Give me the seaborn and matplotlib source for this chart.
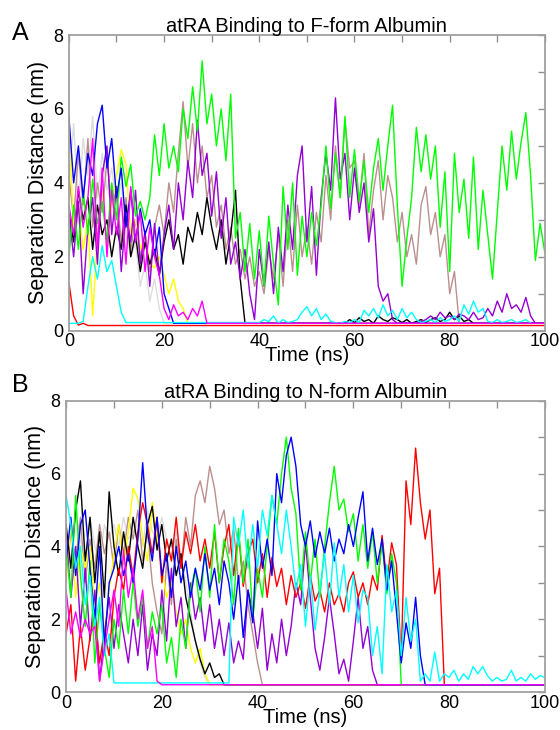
import numpy as np
import pandas as pd
import seaborn as sns
import matplotlib.pyplot as plt
from matplotlib.ticker import MultipleLocator

# Separation distance (nm), one value per ns starting at the given time.
# Panel A: F-form albumin
fa_red = [1.3, 0.4, 0.15, 0.2, 0.14]
fa_cyan = [0.2, 0.2, 0.2, 0.25, 1.2, 2.0, 1.4, 2.3, 1.6, 1.9, 1.2, 0.5, 0.22]
fa_cyan_late = [0.22, 0.3, 0.25, 0.4, 0.2, 0.3, 0.22, 0.25, 0.3, 0.5,      # from 40 ns
                0.65, 0.4, 0.6, 0.3, 0.45, 0.25, 0.22, 0.2, 0.25, 0.22,
                0.3, 0.22, 0.55, 0.4, 0.6, 0.35, 0.7, 0.4, 0.55, 0.3,
                0.6, 0.35, 0.5, 0.3, 0.22, 0.25, 0.3, 0.22, 0.35, 0.25,
                0.3, 0.4, 0.25, 0.7, 0.45, 0.8, 0.5, 0.6, 0.25, 0.22,
                0.3, 0.22, 0.25, 0.3, 0.22, 0.25, 0.3, 0.2]
fa_green = [2.0, 3.4, 2.2, 3.8, 2.6, 4.1, 2.9, 3.5, 2.4, 4.0,
            3.0, 4.7, 3.9, 4.5, 3.1, 3.5, 3.0, 3.6, 5.3, 4.2,
            5.6, 4.4, 5.0, 4.3, 6.0, 5.2, 6.6, 5.4, 7.3, 5.6,
            6.4, 5.0, 6.0, 4.6, 6.4, 2.5, 3.2, 1.6, 2.9, 1.4,
            2.7, 1.2, 3.1, 1.8, 0.7, 3.9, 2.2, 4.0, 1.5, 3.1,
            2.0, 3.2, 2.3, 3.4, 5.0, 3.3, 4.8, 3.6, 5.8, 3.6,
            4.9, 3.5, 4.6, 3.2, 4.4, 5.2, 3.8, 5.0, 6.1, 3.4,
            1.2, 2.5, 3.6, 5.5, 4.3, 5.3, 4.1, 5.0, 2.8, 4.3,
            1.6, 4.8, 3.2, 4.1, 2.5, 4.7, 2.2, 3.8, 2.6, 1.4,
            3.2, 5.0, 3.8, 5.4, 4.1, 5.1, 5.9, 4.2, 1.9, 2.9, 2.1]
fa_purple = [3.2, 2.0, 3.5, 1.0, 2.8, 3.6, 1.8, 4.2, 5.0, 2.6,
             3.9, 1.6, 3.2, 2.4, 3.8, 1.8, 2.7, 1.2, 2.9, 1.5,
             2.6, 3.4, 2.2, 4.0, 3.0, 4.6, 3.6, 5.7, 4.2, 4.8,
             3.1, 4.3, 2.5, 3.6, 1.8, 2.4, 1.4, 2.2, 1.0, 0.3,
             2.2, 1.2, 2.4, 1.0, 2.8, 1.6, 3.4, 2.2, 4.2, 5.0,
             2.4, 3.9, 1.5, 3.6, 4.8, 3.8, 6.3, 4.1, 4.8, 3.0,
             4.4, 3.2, 4.0, 2.4, 3.3, 1.2, 0.8, 1.0, 0.3, 0.2,
             0.2, 0.2, 0.2, 0.2, 0.25, 0.3, 0.4, 0.3, 0.5, 0.35,
             0.4, 0.3, 0.45, 0.4, 0.3, 0.5, 0.3, 0.35, 0.6, 0.4,
             0.8, 0.5, 1.0, 0.6, 0.7, 0.5, 0.9, 0.4, 0.2]
fa_brown = [4.2, 3.0, 4.8, 3.4, 5.2, 2.8, 4.0, 3.2, 4.6, 3.4,
            3.8, 2.4, 3.6, 2.2, 3.0, 2.0, 2.6, 1.6, 2.8, 3.4,
            2.6, 4.0, 3.2, 4.8, 6.2, 4.4, 5.6, 4.0, 5.0, 3.6,
            4.2, 2.8, 3.4, 2.2, 2.8, 1.8, 2.2, 1.4, 2.0, 1.2,
            1.6, 1.0, 2.2, 1.4, 2.6, 1.2, 3.0, 1.6, 3.4, 2.0,
            2.8, 1.8, 3.2, 2.4, 4.2, 3.0, 5.0, 3.6, 5.7, 4.4,
            4.6, 3.4, 4.8, 2.6, 3.8, 4.6, 3.0, 4.2, 3.6, 2.4,
            3.2, 2.0, 2.6, 1.8, 3.4, 3.9, 2.6, 3.2, 2.0, 2.6,
            1.0, 1.6, 0.2]
fa_black = [3.2, 2.4, 3.8, 3.0, 3.6, 2.2, 3.4, 2.6, 3.0, 2.0,
            2.8, 2.2, 3.4, 2.0, 2.6, 1.6, 2.4, 1.8, 2.2, 1.5,
            2.4, 3.0, 2.2, 2.6, 1.8, 2.8, 2.4, 3.2, 2.6, 3.6,
            2.8, 2.2, 3.0, 1.8, 2.6, 3.8, 1.4, 0.2]
fa_black_late = [0.2, 0.3, 0.22, 0.35, 0.25, 0.3, 0.2, 0.4, 0.3, 0.25,   # from 58 ns
                 0.35, 0.3, 0.22, 0.3, 0.2, 0.25, 0.3, 0.22, 0.3, 0.35,
                 0.25, 0.3, 0.5, 0.3, 0.4, 0.25, 0.3, 0.2]
fa_yellow = [5.5, 2.8, 3.4, 2.2, 3.0, 0.4, 2.6, 3.8, 2.2, 3.4,
             4.2, 4.9, 4.5, 2.6, 3.0, 2.2, 2.6, 1.8, 1.7, 2.0,
             1.5, 1.0, 1.4, 0.8, 0.6, 0.2]
fa_blue = [5.8, 4.0, 5.0, 3.6, 4.8, 4.2, 5.6, 6.1, 4.4, 5.2,
           3.6, 4.4, 2.8, 3.8, 2.4, 3.3, 2.6, 3.0, 2.0, 2.8,
           1.0, 0.6, 0.2]
fa_grey = [4.0, 5.6, 3.4, 5.2, 4.2, 5.8, 3.6, 4.8, 3.8, 4.4,
           3.4, 4.0, 2.6, 2.0, 2.4, 1.2, 1.8, 0.8, 1.4, 0.6, 0.2]
fa_magenta = [3.4, 2.6, 3.9, 2.8, 3.6, 5.2, 2.2, 4.4, 2.0, 3.8,
              2.6, 3.6, 1.8, 3.9, 2.4, 3.2, 1.6, 2.8, 2.0, 1.5,
              0.6, 0.3, 0.7, 0.4, 0.5, 0.3, 0.6, 0.4, 0.8, 0.2]

# Panel B: N-form albumin
nb_red = [1.6, 2.4, 0.3, 1.8, 0.6, 1.5, 2.2, 0.8, 1.7, 1.0,
          2.6, 3.4, 2.8, 4.0, 3.2, 4.4, 5.2, 4.6, 3.8, 4.8,
          3.0, 4.2, 3.6, 4.8, 3.4, 4.4, 3.8, 4.6, 3.6, 4.2,
          3.4, 4.4, 3.0, 4.0, 4.6, 3.2, 4.4, 2.9, 3.8, 4.2,
          3.0, 3.8, 2.6, 3.7, 2.9, 3.4, 2.4, 3.2, 2.6, 3.0,
          2.3, 3.2, 2.5, 2.8, 2.2, 3.0, 2.4, 2.7, 2.2, 3.0,
          3.3, 2.6, 3.0, 2.4, 3.2, 2.8, 4.3, 3.0, 4.1, 3.5,
          0.9, 5.8, 4.6, 6.7, 5.2, 4.2, 5.0, 2.7, 3.4, 0.2]
nb_blue = [3.6, 4.8, 3.2, 4.6, 5.0, 3.4, 2.0, 4.0, 1.2, 3.0,
           3.4, 4.0, 3.2, 3.8, 3.0, 4.2, 6.3, 4.4, 3.6, 4.8,
           3.2, 3.8, 2.6, 4.0, 3.0, 3.6, 2.6, 3.4, 2.8, 3.8,
           2.8, 3.4, 2.4, 3.6, 3.0, 2.0, 3.2, 1.5, 2.8, 1.9,
           4.7, 3.4, 4.2, 3.2, 6.0, 5.2, 6.5, 7.0, 6.2, 4.6,
           4.0, 4.7, 3.7, 4.4, 3.8, 4.5, 3.6, 4.2, 3.8, 4.6,
           4.0, 4.8, 5.5, 3.6, 4.5, 3.5, 4.2, 2.8, 3.6, 2.2,
           0.8, 1.9, 1.2, 2.6, 1.0, 0.2]
nb_green = [4.0, 2.6, 5.4, 3.2, 1.8, 3.6, 0.8, 2.4, 1.2, 0.4,
            2.0, 1.2, 2.8, 1.6, 3.0, 1.8, 2.6, 1.2, 2.2, 1.6,
            2.4, 0.8, 1.5, 0.4, 2.0, 1.2, 2.8, 3.4, 2.2, 4.0,
            2.6, 4.6, 3.0, 4.2, 3.6, 2.4, 4.5, 3.0, 4.2, 2.0,
            3.4, 2.6, 4.0, 5.4, 4.6, 6.0, 7.0, 5.6, 4.9, 2.8,
            4.4, 3.0, 4.2, 2.6, 4.0, 5.2, 6.2, 5.0, 5.3, 4.4,
            4.9, 3.6, 4.6, 3.4, 4.4, 3.0, 4.1, 2.7, 3.8, 3.0, 0.2]
nb_cyan = [5.4, 4.6, 3.4, 4.0, 2.4, 3.2, 1.8, 2.6, 1.0, 1.6, 0.25]
nb_cyan_late = [0.25, 4.8, 4.0, 5.0, 3.4, 4.6,                            # from 34 ns
                3.4, 5.0, 4.3, 5.4, 4.6, 3.8, 5.0, 4.0, 2.8, 3.5,
                1.8, 3.2, 1.7, 2.8, 3.8, 2.4, 4.1, 2.6, 3.5, 2.2,
                3.2, 1.9, 2.8, 2.6, 1.0, 1.8, 0.5, 3.5, 2.2, 2.8,
                1.0, 2.6, 1.4, 2.0, 0.3, 0.5, 0.3, 1.1, 0.3, 0.5,
                0.4, 0.6, 0.3, 0.5, 0.35, 0.7, 0.5, 0.7, 0.45, 0.3,
                0.4, 0.3, 0.35, 0.6, 0.3, 0.4, 0.3, 0.5, 0.35, 0.45, 0.4]
nb_magenta = [2.8, 1.6, 2.2, 1.5, 2.0, 1.6, 1.8, 0.3, 1.2, 2.0,
              2.8, 1.8, 3.9, 2.6, 3.4, 2.0, 2.8, 1.2, 1.8, 0.3, 0.2]
nb_yellow = [3.0, 4.6, 2.6, 4.0, 3.4, 4.0, 2.4, 3.0, 1.6, 2.8,
             3.8, 4.6, 3.5, 4.4, 5.6, 5.3, 4.2, 3.6, 5.2, 4.2,
             3.4, 2.6, 3.0, 2.2, 1.6, 2.0, 1.2, 0.8, 1.2, 0.5, 0.2]
nb_black = [4.6, 3.4, 5.0, 5.8, 3.6, 4.8, 3.0, 4.4, 2.6, 5.5,
            4.0, 3.2, 4.4, 3.6, 4.8, 4.0, 3.4, 4.6, 5.1, 3.9,
            4.6, 3.6, 4.2, 3.2, 3.8, 2.6, 2.0, 1.4, 0.9, 0.5,
            0.8, 0.4, 0.5, 0.2]
nb_grey = [4.4, 3.6, 5.0, 4.2, 3.4, 4.8, 4.0, 3.6, 4.6, 4.2,
           4.6, 4.0, 4.8, 4.2, 4.4, 4.6, 4.0, 5.0, 4.4, 4.2,
           4.8, 4.2, 3.6, 4.4, 3.8, 3.0, 2.2, 1.4, 0.8, 0.4, 0.2]
nb_brown = [3.2, 4.4, 3.6, 4.8, 3.0, 4.2, 3.4, 4.6, 3.8, 4.4,
            3.4, 4.6, 3.8, 4.8, 4.2, 5.0, 3.6, 4.4, 3.0, 2.2,
            1.6, 3.6, 2.4, 4.2, 3.4, 4.8, 4.0, 5.4, 5.8, 5.2,
            6.2, 5.6, 4.6, 5.0, 3.8, 4.5, 3.0, 3.6, 2.4, 1.6,
            0.8, 0.2]
nb_purple = [4.4, 2.6, 4.0, 1.8, 3.4, 1.4, 2.8, 0.3, 1.6, 2.6,
             1.2, 2.4, 1.6, 0.8, 2.0, 1.0, 2.4, 0.6, 1.6, 1.0,
             2.8, 1.4, 3.4, 1.8, 2.6, 1.2, 3.0, 2.0, 2.6, 1.4,
             2.4, 1.2, 2.0, 1.0, 1.9, 0.8, 1.4, 0.9, 2.8, 2.2,
             1.2, 2.3, 0.6, 1.6, 0.8, 2.0, 1.0, 1.8, 3.0, 2.4,
             4.1, 2.6, 1.2, 0.6, 1.5, 2.6, 1.6, 0.5, 0.9, 0.3,
             1.4, 2.6, 1.2, 1.8, 0.6, 0.2]

colors = {'grey': '#dcdcdc', 'brown': '#bc8f8f', 'yellow': '#ffff00',
          'black': '#000000', 'violet': '#9400d3', 'red': '#ff0000',
          'green': '#00ff00', 'blue': '#0000ff', 'cyan': '#00ffff',
          'magenta': '#ff00ff'}
run_order = list(colors)

rows = []
def add(panel, run, t0, vals):
    for i, v in enumerate(vals):
        rows.append((panel, run, t0 + i, v))

# panel A segments (bound runs are carried flat to the end of the run)
add('A', 'red', 0, fa_red); add('A', 'red', 100, [0.14])
add('A', 'cyan', 0, fa_cyan); add('A', 'cyan', 40, fa_cyan_late)
add('A', 'green', 0, fa_green)
add('A', 'violet', 0, fa_purple)
add('A', 'brown', 0, fa_brown); add('A', 'brown', 100, [0.2])
add('A', 'black', 0, fa_black); add('A', 'black', 58, fa_black_late); add('A', 'black', 100, [0.2])
add('A', 'yellow', 0, fa_yellow); add('A', 'yellow', 100, [0.2])
add('A', 'blue', 0, fa_blue); add('A', 'blue', 100, [0.2])
add('A', 'grey', 0, fa_grey); add('A', 'grey', 100, [0.2])
add('A', 'magenta', 0, fa_magenta); add('A', 'magenta', 100, [0.2])

# panel B segments
add('B', 'red', 0, nb_red); add('B', 'red', 100, [0.2])
add('B', 'blue', 0, nb_blue); add('B', 'blue', 100, [0.2])
add('B', 'green', 0, nb_green); add('B', 'green', 100, [0.2])
add('B', 'cyan', 0, nb_cyan); add('B', 'cyan', 34, nb_cyan_late)
add('B', 'magenta', 0, nb_magenta); add('B', 'magenta', 100, [0.2])
add('B', 'yellow', 0, nb_yellow); add('B', 'yellow', 100, [0.2])
add('B', 'black', 0, nb_black); add('B', 'black', 100, [0.2])
add('B', 'grey', 0, nb_grey); add('B', 'grey', 100, [0.2])
add('B', 'brown', 0, nb_brown); add('B', 'brown', 100, [0.2])
add('B', 'violet', 0, nb_purple); add('B', 'violet', 100, [0.2])

df = pd.DataFrame(rows, columns=['panel', 'run', 'time', 'dist'])

sns.set_theme(style='white')
plt.rcParams['font.family'] = ['Liberation Sans', 'DejaVu Sans']
plt.rcParams['text.color'] = 'black'
plt.rcParams['axes.labelcolor'] = 'black'
plt.rcParams['xtick.labelcolor'] = 'black'
plt.rcParams['ytick.labelcolor'] = 'black'

fig = plt.figure(figsize=(5.6, 7.3), dpi=100)
axA = fig.add_axes([0.123, 0.547, 0.850, 0.405])
axB = fig.add_axes([0.118, 0.052, 0.855, 0.399])

titles = {'A': 'atRA Binding to F-form Albumin', 'B': 'atRA Binding to N-form Albumin'}
for ax, p in [(axA, 'A'), (axB, 'B')]:
    sns.lineplot(data=df[df.panel == p], x='time', y='dist', hue='run',
                 hue_order=run_order, palette=colors, estimator=None,
                 legend=False, lw=1.0, ax=ax)
    ax.set_xlim(0, 100)
    ax.set_ylim(0, 8)
    ax.xaxis.set_major_locator(MultipleLocator(20))
    ax.xaxis.set_minor_locator(MultipleLocator(10))
    ax.yaxis.set_major_locator(MultipleLocator(2))
    ax.yaxis.set_minor_locator(MultipleLocator(1))
    ax.tick_params(which='both', direction='in', top=True, right=True,
                   length=5, width=1, color='#909090', labelsize=13, pad=2,
                   labelcolor='black')
    ax.tick_params(axis='y', pad=4)
    for s in ax.spines.values():
        s.set_color('#a0a0a0')
        s.set_linewidth(1.3)
    ax.set_title(titles[p], fontsize=14.5, pad=2, color='black')
    ax.set_xlabel('Time (ns)', fontsize=14.5, labelpad=-3)
    ax.set_ylabel('Separation Distance (nm)', fontsize=15.5, labelpad=3)

fig.text(0.022, 0.945, 'A', fontsize=18)
fig.text(0.022, 0.463, 'B', fontsize=18)

plt.savefig('out.png', dpi=100)
